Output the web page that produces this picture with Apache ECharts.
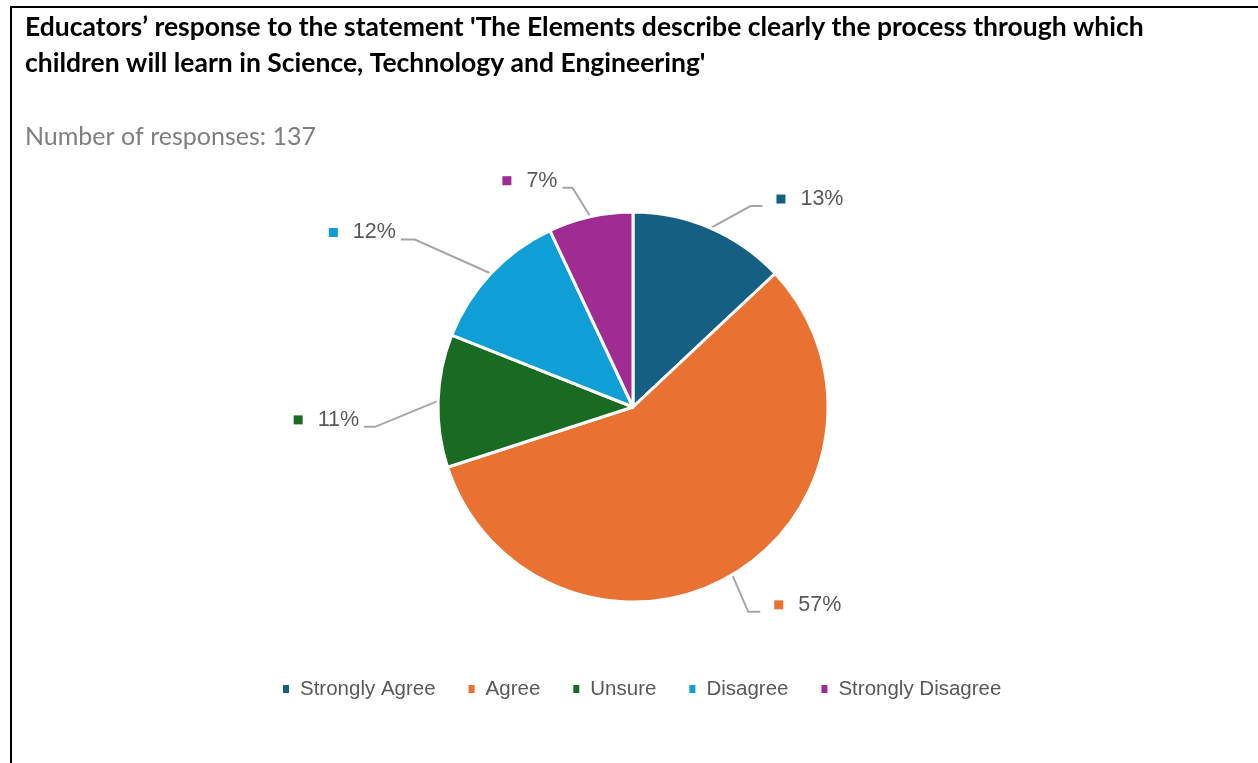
<!DOCTYPE html>
<html>
<head>
<meta charset="utf-8">
<style>
  html, body { margin: 0; padding: 0; background: #ffffff; }
  #chart { width: 1258px; height: 763px; }
</style>
<script src="https://cdn.jsdelivr.net/npm/echarts@6/dist/echarts.min.js"></script>
</head>
<body>
<div id="chart"></div>
<script>
// Survey answers (share of responses, %)
const categories = ['Strongly Agree', 'Agree', 'Unsure', 'Disagree', 'Strongly Disagree'];
const shares = [13, 57, 11, 12, 7];
const colors = ['#156082', '#E97132', '#196B24', '#0F9ED5', '#A02B93'];
const responseCount = 137;

const titleText = "Educators\u2019 response to the statement 'The Elements describe clearly the process through which\nchildren will learn in Science, Technology and Engineering'";

// Leader-line shape for each slice label: elbow offset from the slice edge, then a short horizontal arm
const leaderShape = [
  { dx: 40, dy: -22, arm: 12 },
  { dx: 16, dy: 37, arm: 12 },
  { dx: -63, dy: 26, arm: 11 },
  { dx: -76, dy: -34, arm: 14 },
  { dx: -18, dy: -29, arm: 10 }
];

const pieData = categories.map((name, i) => ({
  name: name,
  value: shares[i],
  itemStyle: { color: colors[i] },
  label: {
    rich: {
      sq: { width: 9, height: 9, backgroundColor: colors[i] },
      pct: { fontFamily: 'Liberation Sans', fontSize: 21.5, color: '#595959', padding: [0, 0, 0, 15] }
    }
  }
}));

const chart = echarts.init(document.getElementById('chart'));
chart.setOption({
  animation: false,
  title: [{
    text: titleText,
    left: 25,
    top: 9,
    padding: 0,
    textStyle: { fontFamily: 'Lato', fontWeight: 'bold', fontSize: 26.5, lineHeight: 36, color: '#000000' }
  }, {
    text: 'Number of responses: ' + responseCount,
    left: 25,
    top: 122,
    padding: 0,
    textStyle: { fontFamily: 'Lato', fontWeight: 'normal', fontSize: 25, lineHeight: 30, color: '#7F7F7F' }
  }],
  legend: {
    left: 281,
    top: 678,
    padding: 0,
    icon: 'rect',
    itemWidth: 8,
    itemHeight: 10,
    itemGap: 31,
    textStyle: { fontFamily: 'Liberation Sans', fontSize: 20.5, lineHeight: 22, color: '#595959', padding: [0, 0, 0, 5] },
    data: categories
  },
  graphic: [
    { type: 'line', shape: { x1: 10, y1: 7, x2: 1258, y2: 7 }, style: { stroke: '#000000', lineWidth: 2 } },
    { type: 'line', shape: { x1: 11, y1: 7, x2: 11, y2: 763 }, style: { stroke: '#000000', lineWidth: 2 } }
  ],
  series: [{
    type: 'pie',
    center: [633, 407],
    radius: 195,
    startAngle: 90,
    clockwise: true,
    avoidLabelOverlap: false,
    itemStyle: { borderColor: '#ffffff', borderWidth: 3 },
    label: {
      show: true,
      position: 'outside',
      formatter: '{sq|}{pct|{d}%}'
    },
    labelLine: {
      show: true,
      length: 25,
      length2: 15,
      lineStyle: { color: '#A6A6A6', width: 2 }
    },
    labelLayout: function (params) {
      const pts = params.labelLinePoints;
      if (!pts) return {};
      const s = leaderShape[params.dataIndex];
      const ex = pts[0][0], ey = pts[0][1];
      const bx = ex + s.dx, by = ey + s.dy;
      const right = s.dx > 0;
      const ax = bx + (right ? s.arm : -s.arm);
      return {
        x: right ? ax + 14 : ax - 5,
        y: by - 7,
        align: right ? 'left' : 'right',
        verticalAlign: 'middle',
        labelLinePoints: [[ex, ey], [bx, by], [ax, by]]
      };
    },
    data: pieData
  }]
});
</script>
</body>
</html>
